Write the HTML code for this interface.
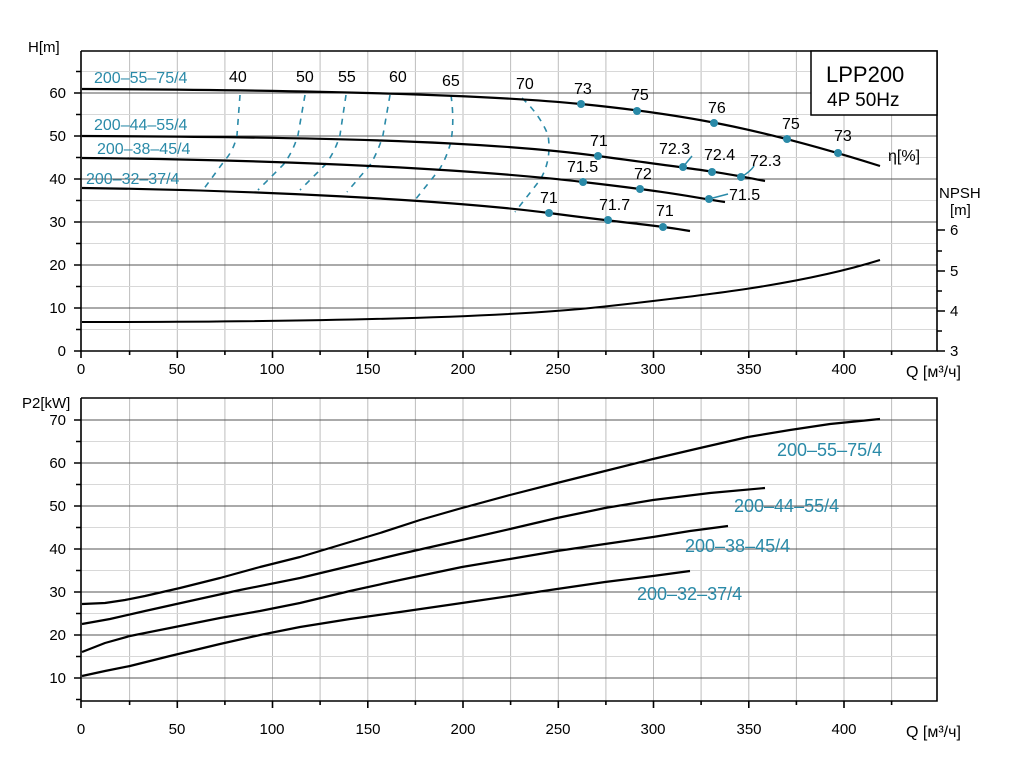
<!DOCTYPE html><html><head><style>body{margin:0;background:#fff}svg{display:block}text{font-family:"Liberation Sans",sans-serif}</style></head><body>
<svg width="1024" height="768" viewBox="0 0 1024 768" xmlns="http://www.w3.org/2000/svg">
<g stroke="#bdbdbd" stroke-width="1">
<path d="M129.6 51V351M177.3 51V351M224.9 51V351M272.5 51V351M320.1 51V351M367.8 51V351M415.4 51V351M463 51V351M510.6 51V351M558.3 51V351M605.9 51V351M653.5 51V351M701.1 51V351M748.8 51V351M796.4 51V351M844 51V351M891.6 51V351"/>
<path d="M81 71.5H937M81 114.5H937M81 157.5H937M81 200.5H937M81 243.5H937M81 286.5H937M81 329.5H937" stroke="#d8d8d8"/>
<path d="M81 93H937M81 136H937M81 179H937M81 222H937M81 265H937M81 308H937" stroke="#555"/>
<path d="M129.6 398V701M177.3 398V701M224.9 398V701M272.5 398V701M320.1 398V701M367.8 398V701M415.4 398V701M463 398V701M510.6 398V701M558.3 398V701M605.9 398V701M653.5 398V701M701.1 398V701M748.8 398V701M796.4 398V701M844 398V701M891.6 398V701"/>
<path d="M81 441.5H937M81 484.5H937M81 527.5H937M81 570.5H937M81 613.5H937M81 656.5H937" stroke="#d8d8d8"/>
<path d="M81 420H937M81 463H937M81 506H937M81 549H937M81 592H937M81 635H937M81 678H937" stroke="#555"/>
</g>
<g stroke="#000" stroke-width="1.6" fill="none">
<path d="M81 51V351H937V51H81"/>
<path d="M81 398V701H937V398H81"/>
<path d="M74 93H81M74 136H81M74 179H81M74 222H81M74 265H81M74 308H81M74 351H81M76 71.5H81M76 114.5H81M76 157.5H81M76 200.5H81M76 243.5H81M76 286.5H81M76 329.5H81"/>
<path d="M937 351H945M937 311H945M937 271H945M937 230H945M937 331H942M937 291H942M937 251H942"/>
<path d="M81 351V358M177.3 351V358M272.5 351V358M367.8 351V358M463 351V358M558.3 351V358M653.5 351V358M748.8 351V358M844 351V358M129.6 351V355M224.9 351V355M320.1 351V355M415.4 351V355M510.6 351V355M605.9 351V355M701.1 351V355M796.4 351V355M891.6 351V355"/>
<path d="M74 420H81M74 463H81M74 506H81M74 549H81M74 592H81M74 635H81M74 678H81M76 441.5H81M76 484.5H81M76 527.5H81M76 570.5H81M76 613.5H81M76 656.5H81M76 699.5H81"/>
<path d="M81 701V708M177.3 701V708M272.5 701V708M367.8 701V708M463 701V708M558.3 701V708M653.5 701V708M748.8 701V708M844 701V708M129.6 701V705M224.9 701V705M320.1 701V705M415.4 701V705M510.6 701V705M605.9 701V705M701.1 701V705M796.4 701V705M891.6 701V705"/>
</g>
<rect x="811" y="51" width="126" height="64" fill="#fff" stroke="#000" stroke-width="1.5"/>
<text x="826" y="82" font-size="22">LPP200</text>
<text x="827" y="106" font-size="19">4P  50Hz</text>
<g stroke="#2a8aa8" stroke-width="1.6" fill="none" stroke-dasharray="6,6">
<path d="M240 95L237 135Q234 150 225 160L203 190"/>
<path d="M305 95L298 135Q293 152 283 165L258 190"/>
<path d="M346 95L340 135Q335 152 325 165L300 190"/>
<path d="M390 95L383 135Q378 152 370 165L347 192"/>
<path d="M451 95Q455 125 450 145Q444 165 435 175L415 200"/>
<path d="M522 98Q540 115 548 135Q552 160 540 180L515 212"/>
</g>
<g stroke="#000" fill="none" stroke-width="2.2" stroke-linejoin="round">
<path d="M82 89C300 90 480 94 581 104S760 128 880 166"/>
<path d="M82 136C300 137 480 140 598 156S720 172 765 181"/>
<path d="M82 158C300 160 480 170 583 182S690 197 725 202"/>
<path d="M82 188C250 190 450 200 549 213S650 224 690 231"/>
<path d="M82 322C300 322 500 318 600 307S800 285 880 260" stroke-width="2"/>
<path d="M82 604L105 603L125 600L145 596L180 588L220 578L260 567L300 557L340 545L380 533L420 520L462 508L510 495L557 483L605 471L653 459L700 448L748 437L790 430L830 424L880 419"/>
<path d="M82 624L110 619L145 611L190 601L240 590L300 578L350 566L400 554L462 540L510 529L557 518L605 508L653 500L710 493L765 488"/>
<path d="M82 652L105 643L130 636L170 628L220 618L260 611L300 603L350 591L400 580L462 567L510 559L557 551L605 544L653 537L690 531L728 526"/>
<path d="M82 676L105 671L130 666L170 656L220 644L260 635L300 627L350 619L400 612L462 603L510 596L557 589L605 582L653 576L690 571"/>
</g>
<g fill="#2a8aa8">
<circle cx="581" cy="104" r="4"/><circle cx="637" cy="111" r="4"/><circle cx="714" cy="123" r="4"/><circle cx="787" cy="139" r="4"/><circle cx="838" cy="153" r="4"/>
<circle cx="598" cy="156" r="4"/><circle cx="683" cy="167" r="4"/><circle cx="712" cy="172" r="4"/><circle cx="741" cy="177" r="4"/>
<circle cx="583" cy="182" r="4"/><circle cx="640" cy="189" r="4"/><circle cx="709" cy="199" r="4"/>
<circle cx="549" cy="213" r="4"/><circle cx="608" cy="220" r="4"/><circle cx="663" cy="227" r="4"/>
</g>
<g stroke="#2a8aa8" stroke-width="1.5" fill="none"><path d="M683 167L692 156"/><path d="M741 177Q750 172 754 166"/><path d="M709 199L728 194"/></g>
<g font-size="16" fill="#000">
<text x="229" y="82">40</text><text x="296" y="82">50</text><text x="338" y="82">55</text><text x="389" y="82">60</text><text x="442" y="86">65</text><text x="516" y="89">70</text>
<text x="574" y="94">73</text><text x="631" y="100">75</text><text x="708" y="113">76</text><text x="782" y="129">75</text><text x="834" y="141">73</text>
<text x="888" y="161">η[%]</text>
<text x="590" y="146">71</text><text x="659" y="154">72.3</text><text x="704" y="160">72.4</text><text x="750" y="166">72.3</text>
<text x="567" y="172">71.5</text><text x="634" y="179">72</text><text x="729" y="200">71.5</text>
<text x="540" y="203">71</text><text x="599" y="210">71.7</text><text x="656" y="216">71</text>
</g>
<g font-size="16" fill="#2a8aa8">
<text x="94" y="83">200–55–75/4</text><text x="94" y="130">200–44–55/4</text><text x="97" y="154">200–38–45/4</text><text x="86" y="184">200–32–37/4</text>
<text x="777" y="456" font-size="18">200–55–75/4</text><text x="734" y="512" font-size="18">200–44–55/4</text><text x="685" y="552" font-size="18">200–38–45/4</text><text x="637" y="600" font-size="18">200–32–37/4</text>
</g>
<g font-size="15" fill="#000">
<text x="28" y="52">H[m]</text>
<g text-anchor="end"><text x="66" y="98">60</text><text x="66" y="141">50</text><text x="66" y="184">40</text><text x="66" y="227">30</text><text x="66" y="270">20</text><text x="66" y="313">10</text><text x="66" y="356">0</text>
<text x="66" y="425">70</text><text x="66" y="468">60</text><text x="66" y="511">50</text><text x="66" y="554">40</text><text x="66" y="597">30</text><text x="66" y="640">20</text><text x="66" y="683">10</text></g>
<text x="22" y="408">P2[kW]</text>
<text x="939" y="198">NPSH</text><text x="950" y="215">[m]</text>
<text x="950" y="235">6</text><text x="950" y="276">5</text><text x="950" y="316">4</text><text x="950" y="356">3</text>
<g text-anchor="middle"><text x="81" y="374">0</text><text x="177" y="374">50</text><text x="272" y="374">100</text><text x="368" y="374">150</text><text x="463" y="374">200</text><text x="558" y="374">250</text><text x="653" y="374">300</text><text x="749" y="374">350</text><text x="844" y="374">400</text>
<text x="81" y="734">0</text><text x="177" y="734">50</text><text x="272" y="734">100</text><text x="368" y="734">150</text><text x="463" y="734">200</text><text x="558" y="734">250</text><text x="653" y="734">300</text><text x="749" y="734">350</text><text x="844" y="734">400</text></g>
<text x="906" y="377" font-size="16">Q [м³/ч]</text><text x="906" y="737" font-size="16">Q [м³/ч]</text>
</g>
</svg></body></html>
